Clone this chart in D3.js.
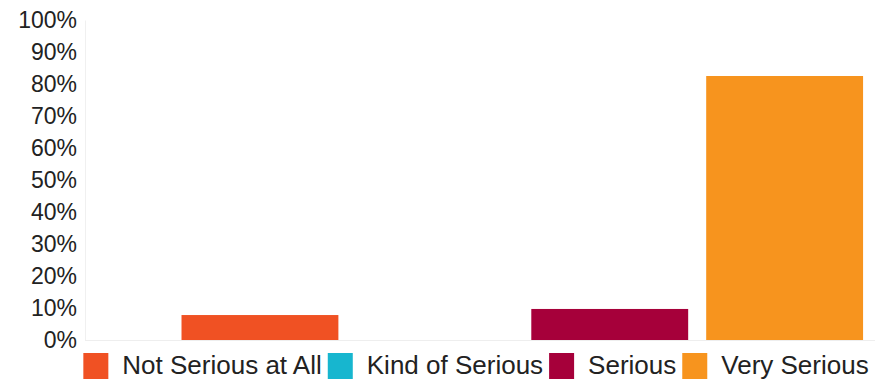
<!DOCTYPE html>
<html>
<head>
<meta charset="utf-8">
<script src="https://cdn.jsdelivr.net/npm/d3@7"></script>
<style>
  html, body { margin: 0; padding: 0; background: #fff; }
  svg { display: block; font-family: "Liberation Sans", Arial, sans-serif; }
</style>
</head>
<body>
<svg id="chart" width="884" height="380"></svg>
<script>
// Survey responses: share of respondents per seriousness level
const categories = ["Not Serious at All", "Kind of Serious", "Serious", "Very Serious"];
const values = [7.8, 0, 9.7, 82.5];
const colors = ["#F05123", "#17B6CF", "#A6003A", "#F7941E"];
const tickValues = [0, 10, 20, 30, 40, 50, 60, 70, 80, 90, 100];

const svg = d3.select("#chart");
const plot = { left: 85, right: 875, top: 20, bottom: 340 };

const x = d3.scaleBand()
  .domain(categories)
  .range([plot.left, plot.right])
  .paddingInner(0.103)
  .paddingOuter(0.31)
  .align(0.89);

const y = d3.scaleLinear()
  .domain([0, 100])
  .range([plot.bottom, plot.top]);

// Y axis: percentage labels, no ticks
const yAxis = d3.axisLeft(y)
  .tickValues(tickValues)
  .tickFormat(d => d + "%")
  .tickSize(0)
  .tickPadding(8);

const gy = svg.append("g")
  .attr("transform", `translate(${plot.left},0)`)
  .call(yAxis);
gy.select(".domain").attr("stroke", "#f0f0f0").attr("stroke-width", 1);
gy.selectAll("text")
  .attr("fill", "#222")
  .style("font-size", "23px");

// Baseline
svg.append("line")
  .attr("x1", plot.left).attr("x2", plot.right)
  .attr("y1", y(0) + 0.5).attr("y2", y(0) + 0.5)
  .attr("stroke", "#eeeeee");

// Bars
svg.append("g")
  .selectAll("rect")
  .data(categories)
  .join("rect")
  .attr("x", d => x(d))
  .attr("width", x.bandwidth())
  .attr("y", (d, i) => y(values[i]))
  .attr("height", (d, i) => y(0) - y(values[i]))
  .attr("fill", (d, i) => colors[i]);

// Legend along the bottom, laid out from measured text widths
const legend = svg.append("g");
const sw = 25, gapText = 14, gapItem = 6, fontSize = 26;
const items = legend.selectAll("g")
  .data(categories)
  .join("g");
items.append("rect")
  .attr("width", sw).attr("height", 26)
  .attr("y", 353)
  .attr("fill", (d, i) => colors[i]);
items.append("text")
  .attr("x", sw + gapText)
  .attr("y", 374)
  .attr("fill", "#222")
  .style("font-size", fontSize + "px")
  .text(d => d);

const widths = [];
items.each(function() {
  const w = sw + gapText + d3.select(this).select("text").node().getComputedTextLength();
  widths.push(w);
});
const total = d3.sum(widths) + gapItem * (widths.length - 1);
let cursor = (plot.left + plot.right) / 2 - 4 - total / 2;
items.attr("transform", (d, i) => {
  const t = `translate(${cursor},0)`;
  cursor += widths[i] + gapItem;
  return t;
});
</script>
</body>
</html>
